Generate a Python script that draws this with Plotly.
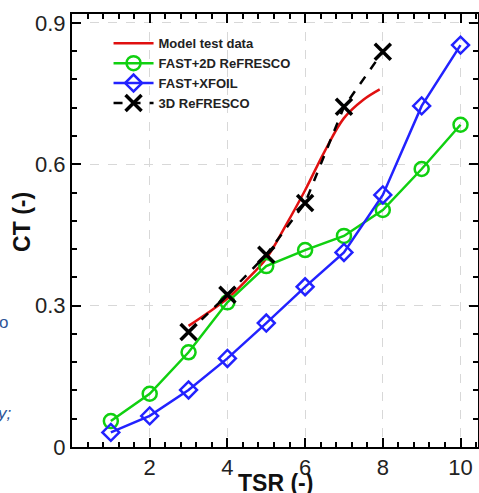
import plotly.graph_objects as go

# TSR values
tsr_model = [3.0, 3.5, 4.0, 4.5, 5.0, 5.5, 6.0, 6.5, 7.0, 7.5, 7.92]
ct_model = [0.257, 0.285, 0.315, 0.355, 0.40, 0.47, 0.545, 0.627, 0.698, 0.737, 0.759]

tsr_2d = [1, 2, 3, 4, 5, 6, 7, 8, 9, 10]
ct_2d = [0.055, 0.113, 0.201, 0.307, 0.384, 0.418, 0.448, 0.503, 0.590, 0.684]

tsr_xfoil = [1, 2, 3, 4, 5, 6, 7, 8, 9, 10]
ct_xfoil = [0.031, 0.066, 0.121, 0.188, 0.263, 0.340, 0.413, 0.535, 0.724, 0.853]

tsr_3d = [3, 4, 5, 6, 7, 8]
ct_3d = [0.244, 0.323, 0.408, 0.518, 0.722, 0.839]

x_ticks = [2, 4, 6, 8, 10]
y_ticks = [0, 0.3, 0.6, 0.9]
y_ticktext = ["0", "0.3", "0.6", "0.9"]

fig = go.Figure()

fig.add_trace(go.Scatter(
    x=tsr_model, y=ct_model, mode='lines', name='Model test data',
    line=dict(color='#e01010', width=2.5, shape='spline'),
))
fig.add_trace(go.Scatter(
    x=tsr_2d, y=ct_2d, mode='lines+markers', name='FAST+2D ReFRESCO',
    line=dict(color='#10d010', width=2.5),
    marker=dict(symbol='circle-open', size=14, line=dict(width=2.5, color='#10d010')),
))
fig.add_trace(go.Scatter(
    x=tsr_xfoil, y=ct_xfoil, mode='lines+markers', name='FAST+XFOIL',
    line=dict(color='#2222ff', width=2.5),
    marker=dict(symbol='diamond-open', size=13, line=dict(width=2.5, color='#2222ff')),
))
fig.add_trace(go.Scatter(
    x=tsr_3d, y=ct_3d, mode='lines+markers', name='3D ReFRESCO',
    line=dict(color='black', width=2.5, dash='dash'),
    marker=dict(symbol='x-thin-open', size=16, line=dict(width=3.5, color='black')),
))

# stray cropped text on the left edge of the screenshot
fig.add_annotation(text='o', xref='paper', yref='paper', x=-0.185, y=0.26,
                   showarrow=False, xanchor='left',
                   font=dict(family='Liberation Sans', size=17, color='#2f5597'))
fig.add_annotation(text='<i>y;</i>', xref='paper', yref='paper', x=-0.19, y=0.05,
                   showarrow=False, xanchor='left',
                   font=dict(family='Liberation Sans', size=17, color='#2f5597'))

# axis titles placed by hand
title_font = dict(family='Liberation Sans', size=23, color='#111', weight='bold')
fig.add_annotation(text='TSR (-)', xref='paper', yref='paper', x=0.5, y=-0.083,
                   showarrow=False, xanchor='center', yanchor='middle', font=title_font)
fig.add_annotation(text='CT (-)', xref='paper', yref='paper', x=-0.123, y=0.52,
                   showarrow=False, xanchor='center', yanchor='middle', textangle=-90,
                   font=title_font)

axis_common = dict(
    showline=True, linecolor='black', linewidth=2, mirror='ticks',
    ticks='inside', ticklen=9, tickwidth=1.5, tickcolor='black',
    showgrid=True, gridcolor='#d8d8d8', griddash='dash', gridwidth=1,
    zeroline=False, automargin=False,
    tickfont=dict(family='Liberation Sans', size=22, color='#222'),
)

fig.update_layout(
    width=479, height=493,
    margin=dict(l=72, r=1, t=14, b=46),
    paper_bgcolor='white', plot_bgcolor='white',
    showlegend=True,
    legend=dict(
        x=0.09, y=0.967, xanchor='left', yanchor='top',
        bgcolor='rgba(0,0,0,0)', borderwidth=0,
        font=dict(family='Liberation Sans', size=13, color='#222', weight='bold'),
        tracegroupgap=0, itemwidth=40,
    ),
    xaxis=dict(
        axis_common, range=[0, 10.45], tickvals=x_ticks,
        minor=dict(dtick=0.4, tick0=0, ticklen=5, ticks='inside', tickcolor='black', showgrid=False),
    ),
    yaxis=dict(
        axis_common, range=[0, 0.919], tickvals=y_ticks, ticktext=y_ticktext,
        minor=dict(dtick=0.06, tick0=0, ticklen=5, ticks='inside', tickcolor='black', showgrid=False),
    ),
)

# drop the default page margin so the figure sits at the window's corner
fig.write_html("out.html", config={'displayModeBar': False},
               post_script="document.body.style.margin='0';")
